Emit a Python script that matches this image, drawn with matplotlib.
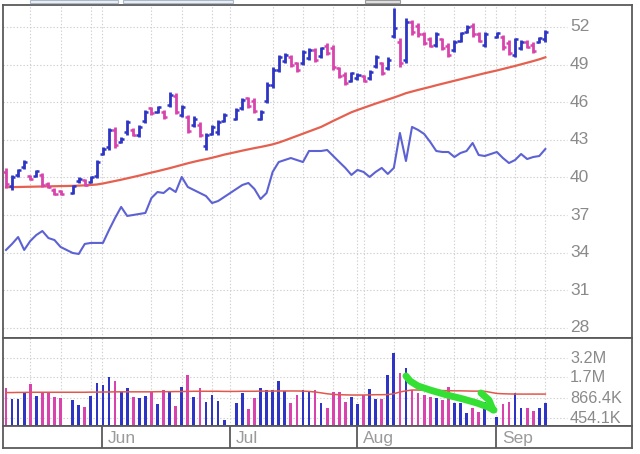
import numpy as np
import matplotlib
matplotlib.use("Agg")
import matplotlib.pyplot as plt
import matplotlib.transforms as mtransforms
from matplotlib.lines import Line2D
from matplotlib.patches import Rectangle

plt.rcParams['font.family'] = ['Liberation Sans', 'DejaVu Sans']

# ---- daily data, one slot per day on the chart (None = holiday gap) ----
opens = [40.4, 39.3, 40.2, 40.8, 40.1, 40.1, 40.2, 39.5, 39.0, 38.9,
         None, 38.8, 39.7, 39.8, 39.6, 40.1, 41.9, 42.4, 43.8, 42.8,
         43.6, 43.8, 43.4, 44.5, 45.5, 45.2, 45.2, 45.8, 46.5, 45.0,
         44.8, 44.2, 44.2, 42.5, 43.5, 43.6, 44.5, None, 44.7, 45.5,
         46.3, 46.1, 44.7, 46.1, 47.4, 48.6, 49.3, 49.6, 49.1, 49.1,
         49.5, 50.2, 49.7, 50.5, 50.3, 48.7, 48.2, 47.7, 47.9, 48.1,
         47.9, 48.9, 49.1, 48.7, 51.3, 50.8, 49.4, 52.4, 52.1, 51.4,
         51.0, 50.6, 51.0, 50.5, 50.2, 50.9, 51.6, 52.1, 51.4, 50.6,
         None, 51.2, 51.2, 50.7, 49.8, 50.3, 50.8, 50.6, 50.8, 51.0]
highs = [40.76, 40.20, 40.68, 41.39, 40.20, 40.60, 40.36, 39.64, 39.16, 39.00,
         None, 39.40, 40.04, 39.88, 40.12, 41.39, 42.43, 43.95, 44.03, 43.23,
         44.58, 43.95, 44.19, 45.38, 45.62, 45.70, 45.38, 46.82, 46.74, 45.78,
         44.98, 44.90, 44.42, 43.55, 44.19, 44.58, 45.14, None, 45.54, 46.34,
         46.42, 46.34, 45.38, 47.61, 48.81, 49.77, 49.93, 49.77, 49.21, 50.17,
         50.33, 50.33, 50.41, 50.72, 50.56, 48.81, 48.41, 48.41, 48.33, 48.17,
         48.57, 49.77, 49.21, 49.61, 53.52, 51.12, 52.72, 52.56, 52.32, 51.60,
         51.20, 51.60, 51.12, 50.72, 50.96, 51.60, 52.16, 52.32, 51.60, 51.60,
         None, 51.60, 51.36, 50.96, 51.12, 50.96, 50.96, 50.80, 51.20, 51.76]
lows = [39.16, 39.00, 40.04, 40.68, 39.80, 40.04, 39.24, 39.16, 38.60, 38.60,
        None, 38.68, 39.56, 39.32, 39.56, 39.96, 41.79, 42.19, 42.35, 42.75,
        43.39, 43.31, 43.23, 44.34, 44.98, 45.14, 44.66, 45.62, 45.06, 44.82,
        43.55, 44.03, 43.23, 42.19, 43.39, 43.39, 44.42, None, 44.58, 45.38,
        45.54, 45.14, 44.58, 45.94, 47.14, 48.41, 49.13, 48.81, 48.41, 48.97,
        49.37, 49.21, 49.53, 49.77, 48.57, 47.93, 47.37, 47.61, 47.77, 47.61,
        47.77, 48.73, 48.17, 48.57, 51.12, 48.81, 49.13, 51.36, 51.20, 50.56,
        50.41, 50.41, 50.17, 49.61, 50.01, 50.80, 51.52, 51.20, 50.80, 50.41,
        None, 51.12, 50.17, 49.77, 49.61, 50.17, 50.33, 49.93, 50.72, 50.80]
closes = [39.5, 40.0, 40.6, 41.2, 39.9, 40.5, 39.4, 39.2, 38.7, 38.7,
          None, 39.3, 39.9, 39.4, 40.0, 41.2, 42.3, 43.8, 42.6, 43.1,
          44.4, 43.4, 44.0, 45.2, 45.1, 45.6, 44.8, 46.6, 45.2, 45.6,
          43.7, 44.7, 43.4, 43.4, 44.0, 44.4, 45.0, None, 45.4, 46.2,
          45.7, 45.3, 45.2, 47.4, 48.6, 49.6, 49.8, 49.0, 48.6, 50.0,
          50.2, 49.4, 50.3, 49.9, 48.8, 48.1, 47.5, 48.3, 48.2, 47.7,
          48.4, 49.6, 48.3, 49.4, 51.9, 49.1, 52.4, 51.6, 51.4, 50.7,
          50.5, 51.4, 50.3, 49.8, 50.8, 51.5, 52.0, 51.4, 50.9, 51.4,
          None, 51.5, 50.4, 49.9, 51.0, 50.8, 50.4, 50.1, 51.1, 51.6]
# b = up day (blue), p = down day (pink), - = no bar
updown = ("pbbbpbpppp" "-bbpbbbbpb" "bpbbpbpbpb" "pbpbbbb-bb" "ppbbbbbppb"
          "bpbppppbbp" "bbpbbpbppp" "pbppbbbppb" "-bppbbppbb")

sma50 = [39.22, 39.23, 39.24, 39.25, 39.26, 39.27, 39.28, 39.29, 39.30, 39.31,
         None, 39.33, 39.35, 39.37, 39.40, 39.44, 39.52, 39.62, 39.72, 39.82,
         39.93, 40.04, 40.15, 40.27, 40.39, 40.50, 40.62, 40.74, 40.87, 41.00,
         41.13, 41.25, 41.36, 41.46, 41.57, 41.69, 41.82, None, 42.03, 42.14,
         42.24, 42.34, 42.43, 42.53, 42.64, 42.78, 42.95, 43.13, 43.31, 43.49,
         43.67, 43.85, 44.03, 44.27, 44.51, 44.74, 44.97, 45.20, 45.38, 45.55,
         45.72, 45.89, 46.05, 46.21, 46.37, 46.54, 46.72, 46.85, 46.98, 47.10,
         47.22, 47.35, 47.47, 47.59, 47.71, 47.83, 47.95, 48.07, 48.19, 48.31,
         None, 48.53, 48.65, 48.77, 48.89, 49.02, 49.15, 49.28, 49.42, 49.58]
# relative strength line, drawn against the price scale
rel_strength = [34.22, 34.70, 35.25, 34.22, 34.93, 35.41, 35.73, 35.17, 35.01, 34.46,
                None, 33.98, 33.90, 34.70, 34.78, 34.78, 34.78, 35.81, 36.77, 37.65,
                36.93, 37.01, 37.09, 37.17, 38.36, 38.84, 38.76, 39.16, 38.84, 40.04,
                39.24, 39.00, 38.76, 38.52, 37.96, 38.12, 38.44, None, 39.08, 39.40,
                39.56, 39.08, 38.28, 38.76, 40.44, 41.23, 41.39, 41.55, 41.39, 41.23,
                42.11, 42.11, 42.11, 42.19, 41.71, 41.23, 40.76, 40.20, 40.60, 40.44,
                40.04, 40.44, 40.76, 40.28, 40.76, 43.55, 41.31, 44.03, 43.79, 43.47,
                42.83, 42.11, 42.03, 42.03, 41.63, 41.95, 42.11, 42.75, 41.79, 41.71,
                None, 42.03, 41.55, 41.15, 41.39, 41.87, 41.47, 41.63, 41.71, 42.27]
# volume in thousands
volume = [1206, 843, 843, 1025, 1374, 930, 1025, 1025, 900, 871,
          None, 816, 693, 650, 930, 1420, 1330, 1726, 1515, 1059,
          1206, 900, 871, 930, 1059, 716, 1130, 1094, 671, 1246,
          1842, 900, 1206, 765, 960, 790, 425, None, 740, 1025,
          609, 871, 1206, 1130, 1130, 1515, 1094, 740, 960, 1130,
          1094, 1130, 740, 629, 1059, 1059, 765, 900, 716, 960,
          1168, 843, 843, 1842, 3772, 1966, 2314, 1130, 1025, 960,
          900, 871, 816, 1246, 740, 740, 534, 629, 552, 765,
          None, 469, 716, 765, 1025, 629, 629, 570, 629, 740]
vol_ma = [1040, 1040, 1045, 1045, 1050, 1050, 1050, 1050, 1050, 1050,
          None, 1050, 1050, 1050, 1055, 1055, 1060, 1060, 1065, 1065,
          1065, 1065, 1065, 1065, 1065, 1070, 1070, 1070, 1075, 1075,
          1080, 1085, 1085, 1085, 1085, 1085, 1080, None, 1080, 1085,
          1085, 1085, 1090, 1090, 1090, 1095, 1095, 1095, 1095, 1090,
          1080, 1060, 1030, 1000, 980, 970, 965, 960, 960, 960,
          965, 970, 970, 975, 1000, 1060, 1100, 1130, 1130, 1125,
          1120, 1115, 1110, 1105, 1100, 1100, 1095, 1090, 1090, 1085,
          None, 1010, 1000, 995, 990, 990, 990, 990, 990, 990]

price_ticks = [28, 31, 34, 37, 40, 43, 46, 49, 52]
vol_ticks = [454100, 866400, 1700000, 3200000]
vol_tick_labels = ['454.1K', '866.4K', '1.7M', '3.2M']
month_slots = [15.85, 36.95, 57.9, 80.85]
month_labels = ['Jun', 'Jul', 'Aug', 'Sep']
week_slots = [4, 9, 14, 24, 29, 34, 44, 49, 54, 59, 64, 69, 74, 79, 84, 89]

BLUE = '#2e35c4'
PINK = '#d943ad'
GRID = '#cfcfcf'
FRAME = '#5a5a5a'
LABEL = '#8a8a8a'

o = np.array(opens, dtype=float)
h = np.array(highs, dtype=float)
l = np.array(lows, dtype=float)
c = np.array(closes, dtype=float)
x = np.arange(len(o))
ok = ~np.isnan(h)
cols = np.array([BLUE if s == 'b' else PINK for s in updown])

fig = plt.figure(figsize=(6.4, 4.54), dpi=100)
W, H = 640, 454

def box(top, bottom):
    return [3 / W, 1 - bottom / H, 629 / W, (bottom - top) / H]

XLIM = (-0.495, 103.3)
GRID_END = 92.6   # horizontal grid stops just before the labels

ax1 = fig.add_axes(box(5, 338))
ax2 = fig.add_axes(box(338, 426))
ax3 = fig.add_axes(box(426, 448))
for ax in (ax1, ax2, ax3):
    ax.set_xlim(*XLIM)
    ax.set_xticks([])
    ax.set_yticks([])
    for sp in ax.spines.values():
        sp.set_color(FRAME)
        sp.set_linewidth(1.3)

# --- price panel ---
ax1.set_ylim(27.2, 53.75)
dot = (0, (1.2, 1.8))
for v in price_ticks:
    ax1.plot([XLIM[0], GRID_END], [v, v], color=GRID, lw=0.8, ls=dot, zorder=0)
ax1.vlines(week_slots + month_slots, 27.2, 53.75, color=GRID, lw=0.8, ls=dot, zorder=0)

ax1.plot(x[ok], np.array(sma50, dtype=float)[ok], color='#e5604f', lw=1.6, zorder=2)
ax1.plot(x[ok], np.array(rel_strength, dtype=float)[ok], color='#5c62d4', lw=1.5, zorder=2)
ax1.vlines(x[ok], l[ok], h[ok], colors=cols[ok], lw=2.0, zorder=3)
ax1.hlines(o[ok], x[ok] - 0.5, x[ok], colors=cols[ok], lw=1.8, zorder=3)
ax1.hlines(c[ok], x[ok], x[ok] + 0.5, colors=cols[ok], lw=1.8, zorder=3)

t1 = mtransforms.blended_transform_factory(ax1.transAxes, ax1.transData)
for v in price_ticks:
    ax1.text(0.9014, v, str(v), transform=t1, color=LABEL, fontsize=12.5,
             ha='left', va='center')

# --- volume panel ---
ax2.set_yscale('log')
ax2.set_ylim(3.5e5, 6.15e6)
ax2.set_yticks([])
ax2.minorticks_off()
for v in vol_ticks:
    ax2.plot([XLIM[0], GRID_END], [v, v], color=GRID, lw=0.8, ls=dot, zorder=0)
ax2.vlines(week_slots + month_slots, 3.5e5, 6.15e6, color=GRID, lw=0.8, ls=dot, zorder=0)
vol = np.array(volume, dtype=float) * 1000
base = 3.0e5
ax2.bar(x[ok], vol[ok] - base, bottom=base, width=0.45, color=cols[ok], zorder=2)
ax2.plot(x[ok], np.array(vol_ma, dtype=float)[ok] * 1000, color='#e0584c', lw=1.1, zorder=3)
t2 = mtransforms.blended_transform_factory(ax2.transAxes, ax2.transData)
for v, s in zip(vol_ticks, vol_tick_labels):
    ax2.text(0.9014, v, s, transform=t2, color=LABEL, fontsize=11.7,
             ha='left', va='center')

# --- date strip ---
ax3.set_ylim(0, 1)
ax3.vlines(month_slots, 0, 1, color=FRAME, lw=1.3)
for m, s in zip(month_slots, month_labels):
    ax3.text(m + 0.95, 0.42, s, color='#9a9a9a', fontsize=12.5, ha='left', va='center')

# --- hand-drawn green arrow on the volume panel (pixel coords) ---
stroke = [(406, 376), (410, 381), (418, 386), (430, 390), (447, 395),
          (463, 399), (477, 403), (488, 407), (494, 410)]
barb = [(481, 393), (489, 400), (493, 410)]
for pts in (stroke, barb):
    fig.add_artist(Line2D([p[0] / W for p in pts], [1 - p[1] / H for p in pts],
                          color='#35e035', lw=5.0, solid_capstyle='round',
                          solid_joinstyle='round', transform=fig.transFigure))

# toolbar slivers cut off at the top of the screenshot
for x0, x1, fc, ec in [(30, 118, '#eef2f6', '#a9b9ca'), (123, 233, '#eef2f6', '#a9b9ca'),
                       (365, 400, '#e2e2e2', '#9a9a9a')]:
    fig.add_artist(Rectangle((x0 / W, 1 - 2.5 / H), (x1 - x0) / W, 3 / H,
                             facecolor=fc, edgecolor=ec, lw=0.8, transform=fig.transFigure))

fig.savefig('out.png', dpi=100)
